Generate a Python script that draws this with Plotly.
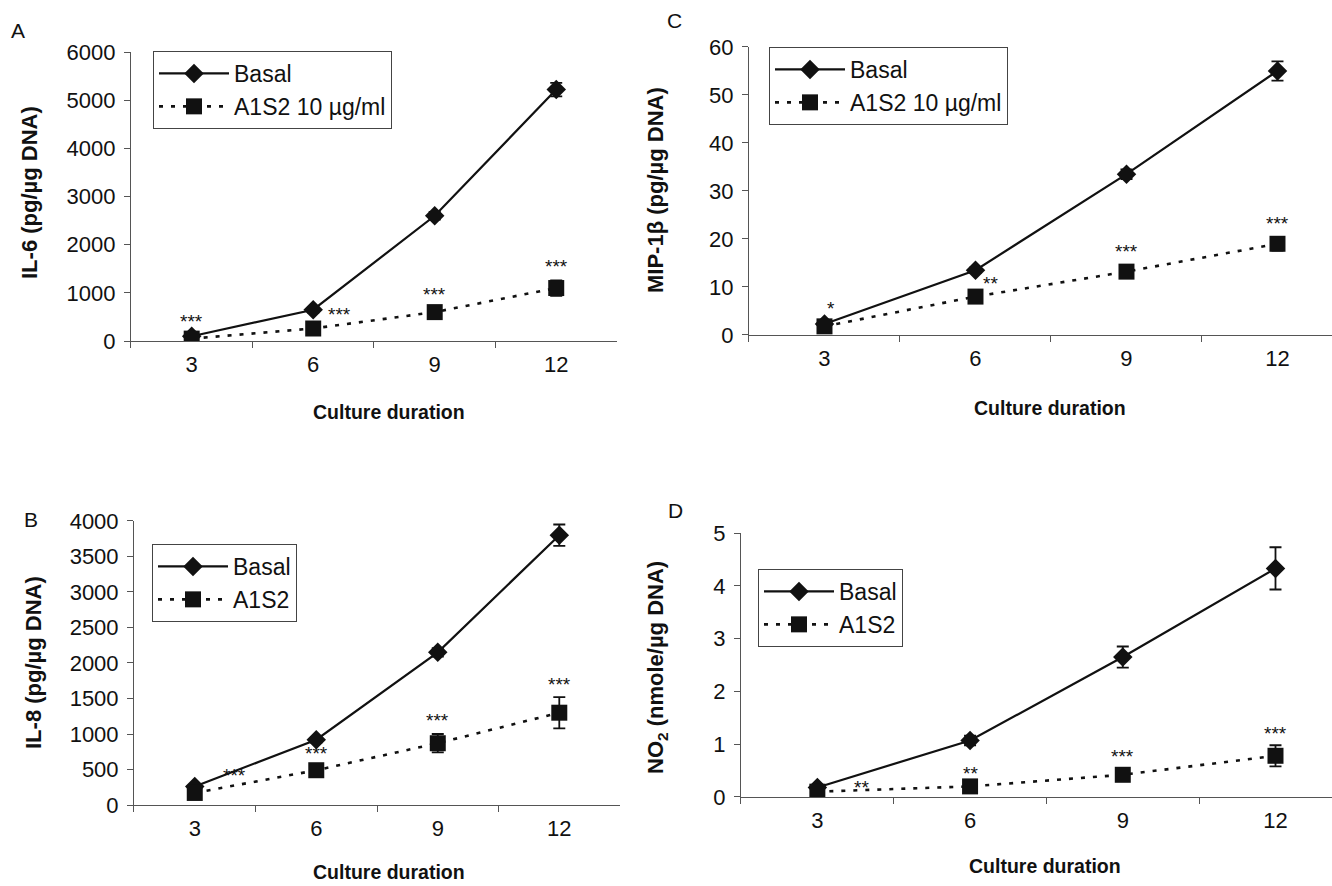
import plotly.graph_objects as go

FONT = "Liberation Sans, Arial, sans-serif"

days = ["3", "6", "9", "12"]

# Panel A : IL-6
il6_basal = [100, 650, 2600, 5220]
il6_basal_err = [40, 60, 80, 140]
il6_a1s2 = [50, 260, 600, 1100]
il6_a1s2_err = [20, 40, 60, 160]
il6_stars = ["***", "***", "***", "***"]
il6_star_x = [0.0, 1.22, 2.0, 3.0]
il6_star_y = [400, 560, 960, 1557]

# Panel C : MIP-1beta
mip_basal = [2.3, 13.5, 33.5, 55.0]
mip_basal_err = [0.4, 0.6, 1.0, 2.0]
mip_a1s2 = [1.8, 8.0, 13.2, 19.0]
mip_a1s2_err = [0.4, 1.2, 1.3, 1.4]
mip_stars = ["*", "**", "***", "***"]
mip_star_x = [0.04, 1.1, 2.0, 3.0]
mip_star_y = [5.6, 10.8, 17.3, 23.3]

# Panel B : IL-8
il8_basal = [260, 920, 2150, 3800]
il8_basal_err = [30, 40, 60, 150]
il8_a1s2 = [170, 490, 870, 1300]
il8_a1s2_err = [60, 60, 130, 220]
il8_stars = ["***", "***", "***", "***"]
il8_star_x = [0.33, 1.0, 2.0, 3.0]
il8_star_y = [410, 720, 1190, 1700]

# Panel D : NO2
no2_basal = [0.18, 1.07, 2.65, 4.33]
no2_basal_err = [0.03, 0.09, 0.2, 0.4]
no2_a1s2 = [0.1, 0.2, 0.42, 0.78]
no2_a1s2_err = [0.03, 0.04, 0.05, 0.2]
no2_stars = ["**", "**", "***", "***"]
no2_star_x = [0.29, 1.0, 2.0, 3.0]
no2_star_y = [0.17, 0.45, 0.76, 1.21]

panels = [
    dict(name="A", basal=il6_basal, be=il6_basal_err, a1=il6_a1s2, ae=il6_a1s2_err,
         stars=il6_stars, sx=il6_star_x, sy=il6_star_y, a1name="A1S2 10 µg/ml",
         xa="x", ya="y", legend="legend",
         xdom=[0.0983, 0.4632], ydom=[0.6151, 0.9413], xr=[-0.5, 3.5],
         yr=[0, 6000], dtick=1000, ytitle="IL-6 (pg/µg DNA)"),
    dict(name="C", basal=mip_basal, be=mip_basal_err, a1=mip_a1s2, ae=mip_a1s2_err,
         stars=mip_stars, sx=mip_star_x, sy=mip_star_y, a1name="A1S2 10 µg/ml",
         xa="x2", ya="y2", legend="legend2",
         xdom=[0.5623, 1.0], ydom=[0.6219, 0.9470], xr=[-0.5, 3.361],
         yr=[0, 60], dtick=10, ytitle="MIP-1β (pg/µg DNA)"),
    dict(name="B", basal=il8_basal, be=il8_basal_err, a1=il8_a1s2, ae=il8_a1s2_err,
         stars=il8_stars, sx=il8_star_x, sy=il8_star_y, a1name="A1S2",
         xa="x3", ya="y3", legend="legend3",
         xdom=[0.1006, 0.4655], ydom=[0.0914, 0.4120], xr=[-0.5, 3.5],
         yr=[0, 4000], dtick=500, ytitle="IL-8 (pg/µg DNA)"),
    dict(name="D", basal=no2_basal, be=no2_basal_err, a1=no2_a1s2, ae=no2_a1s2_err,
         stars=no2_stars, sx=no2_star_x, sy=no2_star_y, a1name="A1S2",
         xa="x4", ya="y4", legend="legend4",
         xdom=[0.5563, 1.0], ydom=[0.1005, 0.3984], xr=[-0.5, 3.37],
         yr=[0, 5], dtick=1, ytitle="NO<sub>2</sub> (nmole/µg DNA)"),
]

fig = go.Figure()
ink = "#111111"

for p in panels:
    fig.add_trace(go.Scatter(
        x=days, y=p["basal"], name="Basal", mode="lines+markers",
        xaxis=p["xa"], yaxis=p["ya"], legend=p["legend"],
        line=dict(color=ink, width=2.2),
        marker=dict(symbol="diamond", size=15, color=ink),
        error_y=dict(type="data", array=p["be"], visible=True, color=ink,
                     thickness=1.8, width=6),
    ))
    fig.add_trace(go.Scatter(
        x=days, y=p["a1"], name=p["a1name"], mode="lines+markers",
        xaxis=p["xa"], yaxis=p["ya"], legend=p["legend"],
        line=dict(color=ink, width=2.6, dash="4px,8px"),
        marker=dict(symbol="square", size=16, color=ink),
        error_y=dict(type="data", array=p["ae"], visible=True, color=ink,
                     thickness=1.8, width=6),
    ))
    for s, sx, sy in zip(p["stars"], p["sx"], p["sy"]):
        fig.add_annotation(x=sx, y=sy, xref=p["xa"], yref=p["ya"], text=s,
                           showarrow=False, font=dict(size=19, color=ink, family=FONT),
                           xanchor="center", yanchor="middle")

axis_common = dict(showgrid=False, zeroline=False, showline=True,
                   linecolor="#555555", linewidth=1, ticks="outside",
                   tickcolor="#555555", ticklen=6, tickwidth=1,
                   automargin=False, ticklabelstandoff=4,
                   tickfont=dict(size=22, color=ink, family=FONT))

layout = dict(
    width=1332, height=886,
    margin=dict(l=0, r=0, t=0, b=0, pad=0, autoexpand=False),
    paper_bgcolor="white", plot_bgcolor="white",
    font=dict(family=FONT, color=ink),
)
for i, p in enumerate(panels):
    sfx = "" if i == 0 else str(i + 1)
    layout["xaxis" + sfx] = dict(axis_common, domain=p["xdom"], range=p["xr"],
                                 type="category", tickson="boundaries",
                                 anchor="y" + sfx)
    layout["yaxis" + sfx] = dict(axis_common, domain=p["ydom"], range=p["yr"],
                                 dtick=p["dtick"], tick0=0, anchor="x" + sfx)

fig.update_layout(**layout)

legend_style = dict(bordercolor="#444444", borderwidth=1, bgcolor="white",
                    font=dict(size=23, color=ink, family=FONT),
                    xanchor="left", yanchor="top", itemwidth=70, tracegroupgap=0)
fig.update_layout(
    legend=dict(legend_style, x=153 / 1332, y=1 - 51 / 886),
    legend2=dict(legend_style, x=769 / 1332, y=1 - 47 / 886),
    legend3=dict(legend_style, x=152 / 1332, y=1 - 544 / 886),
    legend4=dict(legend_style, x=758 / 1332, y=1 - 569 / 886),
)

# axis titles and panel letters
xtitles = [
    ("Culture duration", 389, 412),
    ("Culture duration", 1050, 408),
    ("Culture duration", 389, 872),
    ("Culture duration", 1045, 866),
]
for t, x, y in xtitles:
    fig.add_annotation(x=x / 1332, y=1 - y / 886, xref="paper", yref="paper",
                       text="<b>%s</b>" % t, showarrow=False,
                       font=dict(size=19.5, color=ink, family=FONT),
                       xanchor="center", yanchor="middle")

ytitles = [
    (panels[0]["ytitle"], 30, 193),
    (panels[1]["ytitle"], 655, 190),
    (panels[2]["ytitle"], 33, 663),
    (panels[3]["ytitle"], 657, 668),
]
for t, x, y in ytitles:
    fig.add_annotation(x=x / 1332, y=1 - y / 886, xref="paper", yref="paper",
                       text="<b>%s</b>" % t, showarrow=False, textangle=-90,
                       font=dict(size=22, color=ink, family=FONT),
                       xanchor="center", yanchor="middle")

letters = [("A", 18, 30), ("C", 674, 21), ("B", 31, 519), ("D", 675, 510)]
for t, x, y in letters:
    fig.add_annotation(x=x / 1332, y=1 - y / 886, xref="paper", yref="paper", text=t,
                       showarrow=False, font=dict(size=21, color=ink, family=FONT),
                       xanchor="center", yanchor="middle")

fig.write_html("out.html",
               config={"displayModeBar": False},
               post_script="document.body.style.margin='0px';"
                           "document.body.style.overflow='hidden';")
